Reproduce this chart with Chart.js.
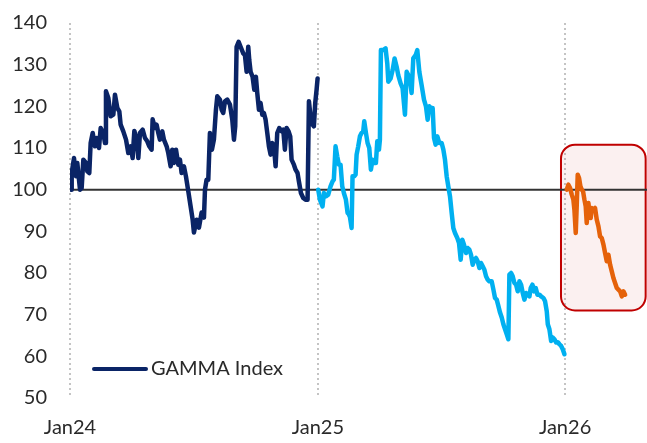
<!DOCTYPE html>
<html>
<head>
<meta charset="utf-8">
<script src="https://cdn.jsdelivr.net/npm/chart.js@4.4.1/dist/chart.umd.min.js"></script>
<style>
  html, body { margin: 0; padding: 0; background: #ffffff; }
  #c { display: block; }
</style>
</head>
<body>
<canvas id="c" width="647" height="443"></canvas>
<script>
// ---- DATA (days counted from 1 Jan of each series' start year) ----
const seriesLabel = "GAMMA Index";

// 2024 (navy), day offset within 2024
const days2024 = [1.5,2.5,5.9,8.9,10.8,14.8,17.2,19.7,23.6,25.6,28.5,30.5,33.5,36.9,39.4,42.8,45.3,49.2,51.7,53.1,56.6,60.0,64.0,66.4,69.9,72.8,74.8,78.7,82.7,86.1,89.5,92.5,95.0,98.4,100.9,103.3,107.3,110.7,114.1,117.1,120.5,122.0,125.5,127.9,130.4,132.8,136.3,138.7,142.7,145.1,148.6,151.0,153.5,156.5,159.9,162.4,164.8,168.3,171.2,174.7,178.1,181.1,183.0,187.0,190.4,194.3,197.8,199.3,201.7,204.2,206.6,209.6,212.5,215.5,217.5,221.4,223.9,226.3,228.8,232.2,236.2,239.6,242.1,244.0,246.0,249.0,251.9,255.8,258.3,260.8,263.2,264.7,266.7,269.6,272.1,274.5,276.5,279.0,281.4,283.9,286.3,288.8,291.3,293.7,296.2,298.6,301.1,303.6,306.0,309.0,312.4,314.9,317.3,319.8,322.8,325.2,327.2,330.6,333.1,336.0,338.0,341.0,344.4,347.8,350.8,352.8,355.7,358.2,360.1,362.1,364.1,365.6];
const vals2024 = [100.0,104.0,107.6,103.2,106.4,100.0,100.4,107.2,106.4,104.4,104.0,111.2,113.6,110.4,112.4,110.0,114.8,113.6,111.2,123.6,122.0,117.6,118.0,122.8,119.6,118.8,115.6,114.0,112.0,108.8,110.4,107.6,114.1,112.0,107.6,113.6,114.4,112.4,111.6,110.4,109.6,116.9,114.8,115.6,113.6,112.0,114.0,112.0,110.4,108.8,105.6,109.6,106.4,109.6,106.0,107.2,104.0,105.6,103.2,99.6,96.0,92.8,89.7,92.8,90.9,94.5,93.3,100.0,102.4,102.4,113.6,109.6,112.0,119.2,122.4,121.6,119.2,118.4,121.2,121.6,120.4,116.8,112.0,115.2,134.3,135.5,134.3,132.7,132.3,128.3,134.3,131.1,128.3,127.1,124.0,127.1,123.2,119.2,120.8,118.0,118.4,116.8,113.6,110.4,108.4,111.2,110.4,105.6,113.6,114.8,114.0,114.4,109.6,114.8,114.0,112.8,107.2,106.0,104.8,104.0,102.0,99.2,98.0,97.6,97.6,121.2,116.8,115.6,115.2,120.8,124.0,126.7];

// 2025 (light blue), day offset within 2025
const days2025 = [0.5,3.0,6.9,8.9,11.8,15.3,18.7,21.7,23.6,26.1,28.6,31.0,33.5,36.0,38.4,41.4,43.9,44.8,47.3,49.8,51.2,53.7,55.7,57.2,59.6,62.1,64.5,67.0,68.5,71.0,73.4,75.9,78.3,80.8,83.3,85.7,87.7,90.2,91.6,93.1,96.6,100.0,102.5,104.0,107.4,110.4,113.3,116.3,118.7,122.2,125.1,128.6,131.1,133.5,136.0,138.4,140.9,144.4,146.8,149.8,153.2,156.7,159.6,162.1,164.6,167.0,169.5,171.5,173.9,176.4,179.3,182.8,185.3,187.7,190.2,192.6,195.1,197.6,200.0,202.5,205.9,208.4,210.9,213.3,215.8,218.8,221.2,223.7,226.1,228.6,231.1,233.5,236.0,238.5,240.9,243.4,245.9,248.3,250.8,253.2,256.7,259.2,261.6,264.1,266.5,269.0,271.5,273.9,276.4,278.9,281.3,282.8,285.3,287.7,290.2,292.7,295.1,297.6,300.1,302.5,305.0,307.5,309.9,312.4,314.3,316.8,319.3,321.7,324.2,327.2,329.6,333.1,335.5,338.0,339.5,341.9,344.4,346.9,349.3,351.8,354.3,356.7,359.2,361.6,364.1];
const vals2025 = [100.0,97.6,96.0,99.2,98.4,98.8,100.8,102.0,102.4,110.4,108.0,106.0,106.0,100.8,99.2,97.6,94.4,94.4,93.5,90.8,103.2,103.2,103.6,108.4,110.4,112.8,113.6,114.0,116.4,113.6,111.2,110.0,104.8,107.2,106.4,106.4,111.6,109.6,112.0,133.5,133.5,133.9,130.3,125.9,126.7,128.7,131.5,129.5,127.5,125.5,124.4,118.0,128.3,127.5,126.3,123.2,131.5,132.3,133.5,128.3,125.1,121.6,120.0,116.8,120.0,119.6,119.6,112.4,110.8,112.8,111.2,111.2,109.6,107.2,103.2,100.8,98.4,94.4,90.8,89.6,88.4,87.2,83.2,88.0,86.8,84.8,86.0,85.6,84.4,82.0,83.2,83.6,82.8,81.2,82.4,81.6,80.8,79.2,78.4,78.0,78.0,76.0,74.0,73.6,72.1,70.5,69.3,67.7,66.5,65.3,64.1,79.6,80.0,79.2,77.6,77.2,75.6,78.0,77.2,75.2,73.6,75.2,74.8,74.4,76.4,77.2,75.6,76.4,74.8,74.8,74.4,74.0,73.2,70.8,67.7,66.5,63.7,64.5,64.1,63.3,63.4,62.9,62.5,61.7,60.5];

// 2026 YTD (orange), day offset within 2026
const days2026 = [2.5,4.9,7.4,9.9,12.3,13.8,15.8,17.2,18.7,20.7,22.7,24.6,26.6,28.6,30.5,32.0,34.5,36.0,37.9,39.4,41.9,44.3,46.8,49.3,51.7,54.2,56.7,59.1,61.6,64.0,66.5,69.0,71.4,73.9,76.4,78.8,81.3,83.8,86.2,88.7];
const vals2026 = [100.0,101.2,100.4,98.8,97.6,95.2,89.6,96.0,103.6,102.8,100.8,100.0,99.6,97.6,96.0,92.0,96.8,94.4,93.2,95.6,95.2,95.6,92.8,91.2,88.8,88.4,86.8,84.8,82.8,84.4,82.0,80.4,78.8,77.6,76.4,76.0,75.6,74.4,75.6,74.8];

const yearStarts = [0, 366, 731];           // day index of 1 Jan 2024 / 2025 / 2026
const tickLabels = ["Jan24", "Jan25", "Jan26"];
const yTicks = [50, 60, 70, 80, 90, 100, 110, 120, 130, 140];
const baseline = 100;

// ---- build points ----
function pts(days, vals, start) {
  return days.map((d, i) => ({ x: start + d, y: vals[i] }));
}

const colors = { navy: "#0a2466", blue: "#00b0f0", orange: "#e5620a" };

Chart.defaults.font.family = "Lato, 'Open Sans', sans-serif";
Chart.defaults.font.size = 20;
Chart.defaults.color = "#2a2a2a";

const highlight = { x0: 725, x1: 850, y0: 71, y1: 110.8 };

const bgPlugin = {
  id: "bg",
  beforeDatasetsDraw(chart) {
    const { ctx, chartArea, scales } = chart;
    const xs = scales.x, ys = scales.y;
    const l = xs.getPixelForValue(highlight.x0), r = xs.getPixelForValue(highlight.x1);
    const t = ys.getPixelForValue(highlight.y1), b = ys.getPixelForValue(highlight.y0);
    ctx.save();
    ctx.beginPath();
    ctx.roundRect(l, t, r - l, b - t, 14);
    ctx.fillStyle = "rgba(200, 40, 40, 0.07)";
    ctx.fill();
    ctx.lineWidth = 2;
    ctx.strokeStyle = "#c00000";
    ctx.stroke();
    const y = ys.getPixelForValue(baseline);
    ctx.beginPath();
    ctx.moveTo(chartArea.left, y);
    ctx.lineTo(chartArea.right, y);
    ctx.lineWidth = 2;
    ctx.strokeStyle = "#333333";
    ctx.stroke();
    ctx.restore();
  }
};

const legendPlugin = {
  id: "inlegend",
  afterDraw(chart) {
    const { ctx, chartArea } = chart;
    const ds = chart.data.datasets[0];
    const y = chartArea.bottom - 29;
    const x0 = chartArea.left + 24;
    ctx.save();
    ctx.beginPath();
    ctx.moveTo(x0, y);
    ctx.lineTo(x0 + 52, y);
    ctx.lineWidth = 4;
    ctx.lineCap = "round";
    ctx.strokeStyle = ds.borderColor;
    ctx.stroke();
    ctx.font = "20px " + Chart.defaults.font.family;
    ctx.fillStyle = "#2a2a2a";
    ctx.textBaseline = "middle";
    ctx.fillText(ds.label, x0 + 57, y);
    ctx.restore();
  }
};

const lineStyle = { borderWidth: 4.5, pointRadius: 0, tension: 0, borderJoinStyle: "round", borderCapStyle: "round", fill: false };

new Chart(document.getElementById("c"), {
  type: "line",
  data: {
    datasets: [
      Object.assign({ label: seriesLabel, data: pts(days2024, vals2024, yearStarts[0]), borderColor: colors.navy }, lineStyle),
      Object.assign({ label: seriesLabel + " 2025", data: pts(days2025, vals2025, yearStarts[1]), borderColor: colors.blue }, lineStyle),
      Object.assign({ label: seriesLabel + " 2026", data: pts(days2026, vals2026, yearStarts[2]), borderColor: colors.orange }, lineStyle)
    ]
  },
  options: {
    responsive: false,
    animation: false,
    layout: { padding: { top: 23, left: 0, right: 0, bottom: 0 } },
    plugins: { legend: { display: false }, tooltip: { enabled: false } },
    scales: {
      x: {
        type: "linear",
        min: 0,
        max: 852,
        afterBuildTicks(scale) { scale.ticks = yearStarts.map(v => ({ value: v })); },
        afterFit(scale) { scale.height = 45; scale.paddingLeft = 0; scale.paddingRight = 0; },
        ticks: {
          padding: 18,
          maxRotation: 0,
          callback(v) { const i = yearStarts.indexOf(v); return i >= 0 ? tickLabels[i] : ""; }
        },
        border: { display: false, dash: [2, 3] },
        grid: { display: true, drawTicks: false, color: "#c4c4c4", lineWidth: 2 }
      },
      y: {
        min: 50,
        max: 140,
        afterBuildTicks(scale) { scale.ticks = yTicks.map(v => ({ value: v })); },
        afterFit(scale) { scale.width = 70; scale.paddingTop = 0; scale.paddingBottom = 0; },
        ticks: { padding: 23 },
        border: { display: false },
        grid: { display: false, drawTicks: false }
      }
    }
  },
  plugins: [bgPlugin, legendPlugin]
});
</script>
</body>
</html>
